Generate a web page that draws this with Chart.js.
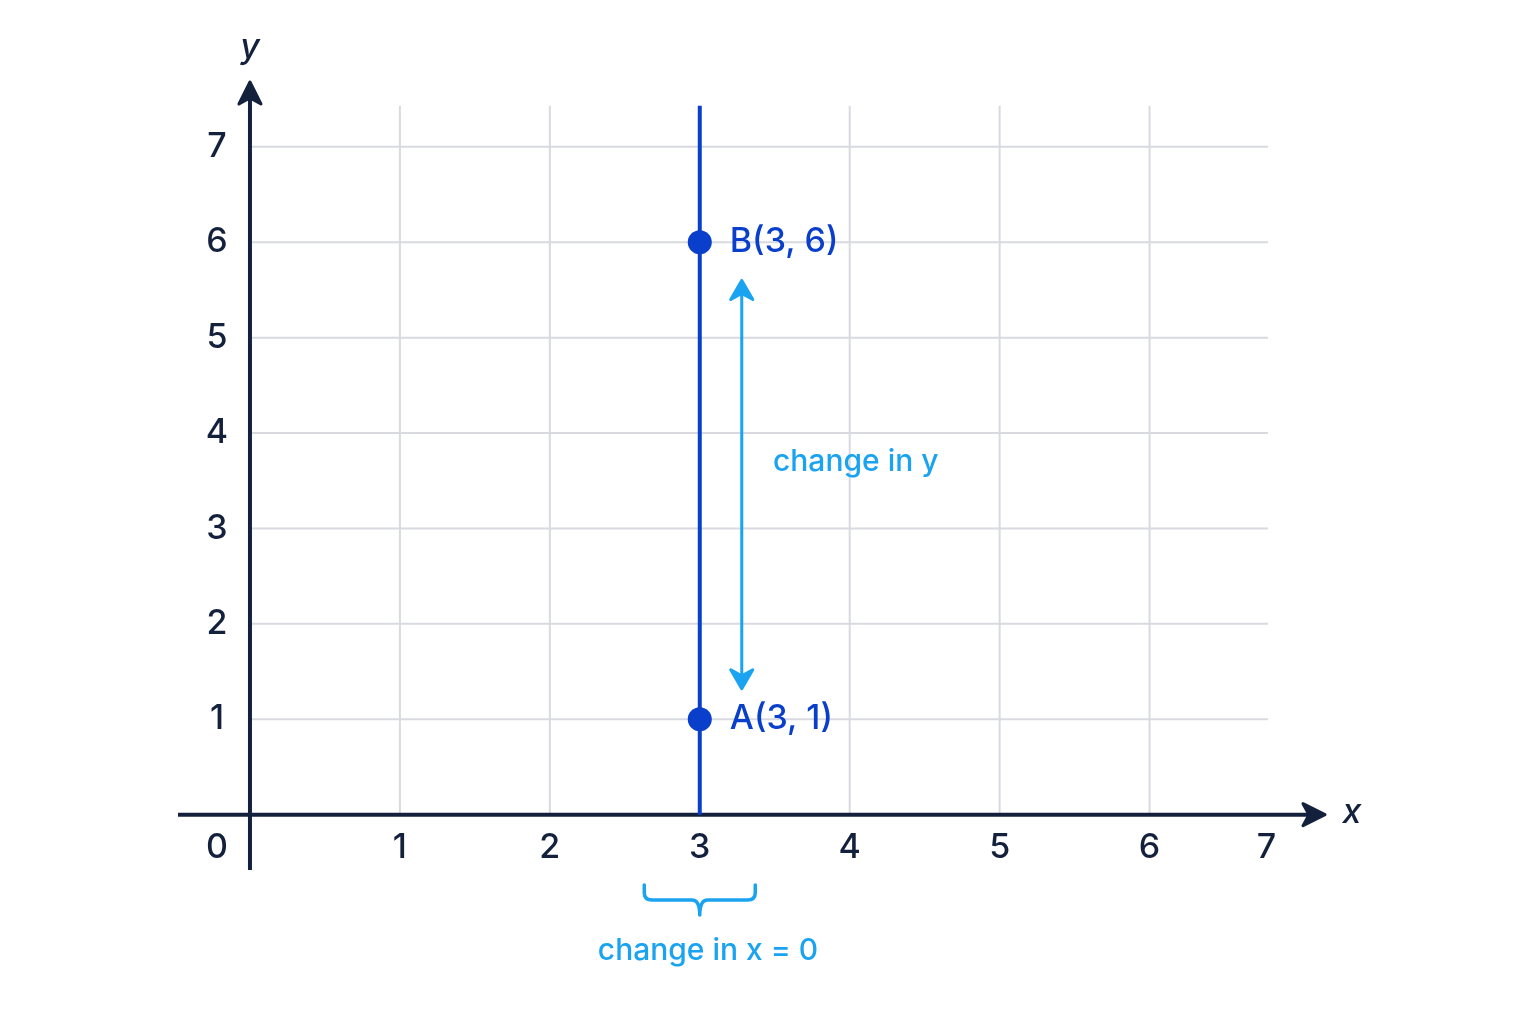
<!DOCTYPE html><html><head><style>html,body{margin:0;background:#fff}</style>
<script src="https://cdn.jsdelivr.net/npm/chart.js@4"></script></head><body>
<div style="width:1536px;height:1024px"><canvas id="c"></canvas></div>
<script>
const xTicks=[1,2,3,4,5,6,7];
const yTicks=[1,2,3,4,5,6,7];
const pointA=[3,1], pointB=[3,6];
const lineX=3, lineTop=7.43;
const gridMaxX=6.79, gridMaxY=7.43;
const NAVY='#14213d', BLUE='#0a3fcc', CYAN='#1aa3f0', GRID='#d8dae0';
const F='Inter, "Noto Sans", sans-serif';
const deco={id:'deco',beforeDatasetsDraw(ch){
 const c=ch.ctx,x=ch.scales.x,y=ch.scales.y,X=v=>x.getPixelForValue(v),Y=v=>y.getPixelForValue(v);
 c.save();c.strokeStyle=GRID;c.lineWidth=2;
 for(const t of [1,2,3,4,5,6]){c.beginPath();c.moveTo(X(t),Y(0));c.lineTo(X(t),Y(gridMaxY));c.stroke();}
 for(const t of yTicks){c.beginPath();c.moveTo(X(0),Y(t));c.lineTo(X(gridMaxX),Y(t));c.stroke();}
 c.strokeStyle=NAVY;c.fillStyle=NAVY;c.lineWidth=4;
 c.beginPath();c.moveTo(x.left,Y(0));c.lineTo(x.right-8,Y(0));c.stroke();
 c.beginPath();c.moveTo(X(0),y.bottom);c.lineTo(X(0),y.top+8);c.stroke();
 c.lineWidth=3;c.lineJoin='round';
 let ax=x.right,ay=Y(0);c.beginPath();c.moveTo(ax-22,ay-11);c.lineTo(ax,ay);c.lineTo(ax-22,ay+11);c.lineTo(ax-16,ay);c.closePath();c.fill();c.stroke();
 ax=X(0);ay=y.top;c.beginPath();c.moveTo(ax-11,ay+22);c.lineTo(ax,ay);c.lineTo(ax+11,ay+22);c.lineTo(ax,ay+16);c.closePath();c.fill();c.stroke();
 c.font='500 34px '+F;c.textAlign='center';c.textBaseline='middle';
 xTicks.forEach(t=>c.fillText(String(t),t===7?X(6.78):X(t),Y(0)+33));
 c.fillText('0',217,Y(0)+33);
 yTicks.forEach(t=>c.fillText(String(t),217,Y(t)));
 c.font='italic 500 34px '+F;c.fillText('x',1352,Y(0)-2);c.fillText('y',250,48);
 c.restore();},
 afterDatasetsDraw(ch){
 const c=ch.ctx,x=ch.scales.x,y=ch.scales.y,X=v=>x.getPixelForValue(v),Y=v=>y.getPixelForValue(v);
 c.save();c.font='500 34px '+F;c.fillStyle=BLUE;c.textBaseline='middle';c.textAlign='left';
 c.fillText('B(3, 6)',X(3)+30,Y(6));c.fillText('A(3, 1)',X(3)+30,Y(1));
 c.strokeStyle=CYAN;c.fillStyle=CYAN;c.lineWidth=3;c.lineJoin='round';
 const ax=X(3.28),t=Y(5.6),b=Y(1.32);
 c.beginPath();c.moveTo(ax,t+10);c.lineTo(ax,b-10);c.stroke();
 c.beginPath();c.moveTo(ax-11,t+19);c.lineTo(ax,t);c.lineTo(ax+11,t+19);c.lineTo(ax,t+13);c.closePath();c.fill();c.stroke();
 c.beginPath();c.moveTo(ax-11,b-19);c.lineTo(ax,b);c.lineTo(ax+11,b-19);c.lineTo(ax,b-13);c.closePath();c.fill();c.stroke();
 c.font='500 30px '+F;c.fillText('change in y',773,Y(3.7));
 c.lineCap='round';c.lineWidth=3.5;
 const l=X(2.63),r=X(3.37),m=X(3),by=885;
 c.beginPath();c.moveTo(l,by);c.lineTo(l,by+8);c.quadraticCurveTo(l,by+15,l+8,by+15);c.lineTo(m-8,by+15);c.quadraticCurveTo(m,by+15,m,by+30);
 c.moveTo(r,by);c.lineTo(r,by+8);c.quadraticCurveTo(r,by+15,r-8,by+15);c.lineTo(m+8,by+15);c.quadraticCurveTo(m,by+15,m,by+30);c.stroke();
 c.textAlign='center';c.fillText('change in x = 0',708,951);
 c.restore();}};
new Chart(document.getElementById('c'),{type:'scatter',
 data:{datasets:[
  {type:'line',data:[{x:lineX,y:0},{x:lineX,y:lineTop}],borderColor:BLUE,borderWidth:4,pointRadius:0},
  {data:[{x:pointA[0],y:pointA[1]},{x:pointB[0],y:pointB[1]}],backgroundColor:BLUE,pointRadius:12,borderWidth:0}]},
 options:{responsive:true,maintainAspectRatio:false,animation:false,
  layout:{padding:{left:178,right:211,top:82,bottom:154}},
  plugins:{legend:{display:false},tooltip:{enabled:false}},
  scales:{x:{type:'linear',min:-0.48,max:7.17,display:false},y:{min:-0.58,max:7.68,display:false}}},
 plugins:[deco]});
</script></body></html>
